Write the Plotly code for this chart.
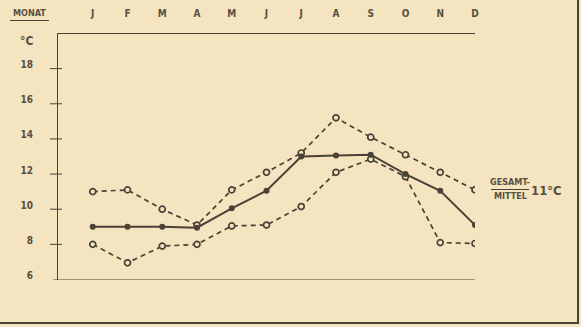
import plotly.graph_objects as go

# Monthly temperatures (°C)
months = ["J", "F", "M", "A", "M", "J", "J", "A", "S", "O", "N", "D"]
temp_max = [11.0, 11.1, 10.0, 9.1, 11.1, 12.1, 13.2, 15.2, 14.1, 13.1, 12.1, 11.1]
temp_mean = [9.0, 9.0, 9.0, 8.95, 10.05, 11.05, 13.0, 13.05, 13.1, 12.0, 11.05, 9.1]
temp_min = [8.0, 6.95, 7.9, 8.0, 9.05, 9.1, 10.15, 12.1, 12.85, 11.85, 8.1, 8.05]
y_ticks = [6, 8, 10, 12, 14, 16, 18]
overall_mean = 11

W, H = 581, 327
BG = "#f4e4bf"
INK = "#4a4236"
TXT = "#575042"
FONT = "DejaVu Sans Condensed, DejaVu Sans, sans-serif"

x_idx = list(range(len(months)))

fig = go.Figure()

def dashed(values):
    return go.Scatter(
        x=x_idx, y=values, mode="lines+markers",
        line=dict(color=INK, width=1.7, dash="5px,4px"),
        marker=dict(symbol="circle", size=6, color=BG,
                    line=dict(color=INK, width=1.7)),
        hoverinfo="skip", showlegend=False,
    )

fig.add_trace(dashed(temp_max))
fig.add_trace(dashed(temp_min))
fig.add_trace(go.Scatter(
    x=x_idx, y=temp_mean, mode="lines+markers",
    line=dict(color=INK, width=2),
    marker=dict(symbol="circle", size=6, color=INK),
    hoverinfo="skip", showlegend=False,
))

x0d, x1d = 58 / W, 475 / W
y0d, y1d = 1 - 279.5 / H, 1 - 33.5 / H

fig.update_layout(
    width=W, height=H, autosize=False,
    margin=dict(l=0, r=0, t=0, b=0, pad=0, autoexpand=False),
    paper_bgcolor=BG, plot_bgcolor=BG,
    font=dict(family=FONT, color=TXT, size=11),
    xaxis=dict(
        domain=[x0d, x1d], range=[-1, 11], side="top", automargin=False,
        tickvals=x_idx, ticktext=months,
        ticks="outside", ticklen=12, tickcolor="rgba(0,0,0,0)",
        tickfont=dict(size=10, family=FONT, color=TXT, weight="bold"),
        showgrid=False, zeroline=False, showline=True,
        linecolor=INK, linewidth=1, fixedrange=True,
    ),
    yaxis=dict(
        domain=[y0d, y1d], range=[6, 20], automargin=False,
        tickvals=y_ticks, ticktext=[str(v) for v in y_ticks],
        ticks="outside", ticklen=22, tickcolor="rgba(0,0,0,0)",
        ticklabelshift=-4,
        tickfont=dict(size=10, family=FONT, color=TXT, weight="bold"),
        showgrid=False, zeroline=False, showline=True,
        linecolor=INK, linewidth=1, fixedrange=True,
    ),
)

shapes = []
# crossing tick marks on the temperature axis
for v in y_ticks[1:]:
    shapes.append(dict(type="line", xref="paper", yref="y",
                       x0=50 / W, x1=62 / W, y0=v, y1=v,
                       line=dict(color=INK, width=1)))
# baseline, extended slightly left of the axis
shapes.append(dict(type="line", xref="paper", yref="y",
                   x0=53 / W, x1=x1d, y0=6, y1=6,
                   line=dict(color=INK, width=1.2)))
# underline of the MONAT heading
shapes.append(dict(type="line", xref="paper", yref="paper",
                   x0=10 / W, x1=49 / W, y0=1 - 20.5 / H, y1=1 - 20.5 / H,
                   line=dict(color=INK, width=1)))
# fraction bar of the overall-mean label
shapes.append(dict(type="line", xref="paper", yref="paper",
                   x0=491 / W, x1=529 / W, y0=1 - 189.5 / H, y1=1 - 189.5 / H,
                   line=dict(color=INK, width=1.2)))
# frame
shapes.append(dict(type="line", xref="paper", yref="paper",
                   x0=0, x1=579 / W, y0=1 - 323 / H, y1=1 - 323 / H,
                   line=dict(color=INK, width=2)))
shapes.append(dict(type="line", xref="paper", yref="paper",
                   x0=578 / W, x1=578 / W, y0=1 - 323 / H, y1=1,
                   line=dict(color=INK, width=2)))
fig.update_layout(shapes=shapes)

def note(text, x, y, size=10, xanchor="center"):
    return dict(text=text, xref="paper", yref="paper", x=x / W, y=1 - y / H,
                xanchor=xanchor, yanchor="middle", showarrow=False,
                font=dict(family=FONT, size=size, color=TXT, weight="bold"))

fig.update_layout(annotations=[
    note("MONAT", 29, 13, 9),
    note("°C", 26, 41, 12),
    note("GESAMT-", 510, 182, 9),
    note("MITTEL", 510, 196, 9),
    note(f"{overall_mean}°C", 529, 190, 13, xanchor="left"),
])

fig.write_html("out.html")
